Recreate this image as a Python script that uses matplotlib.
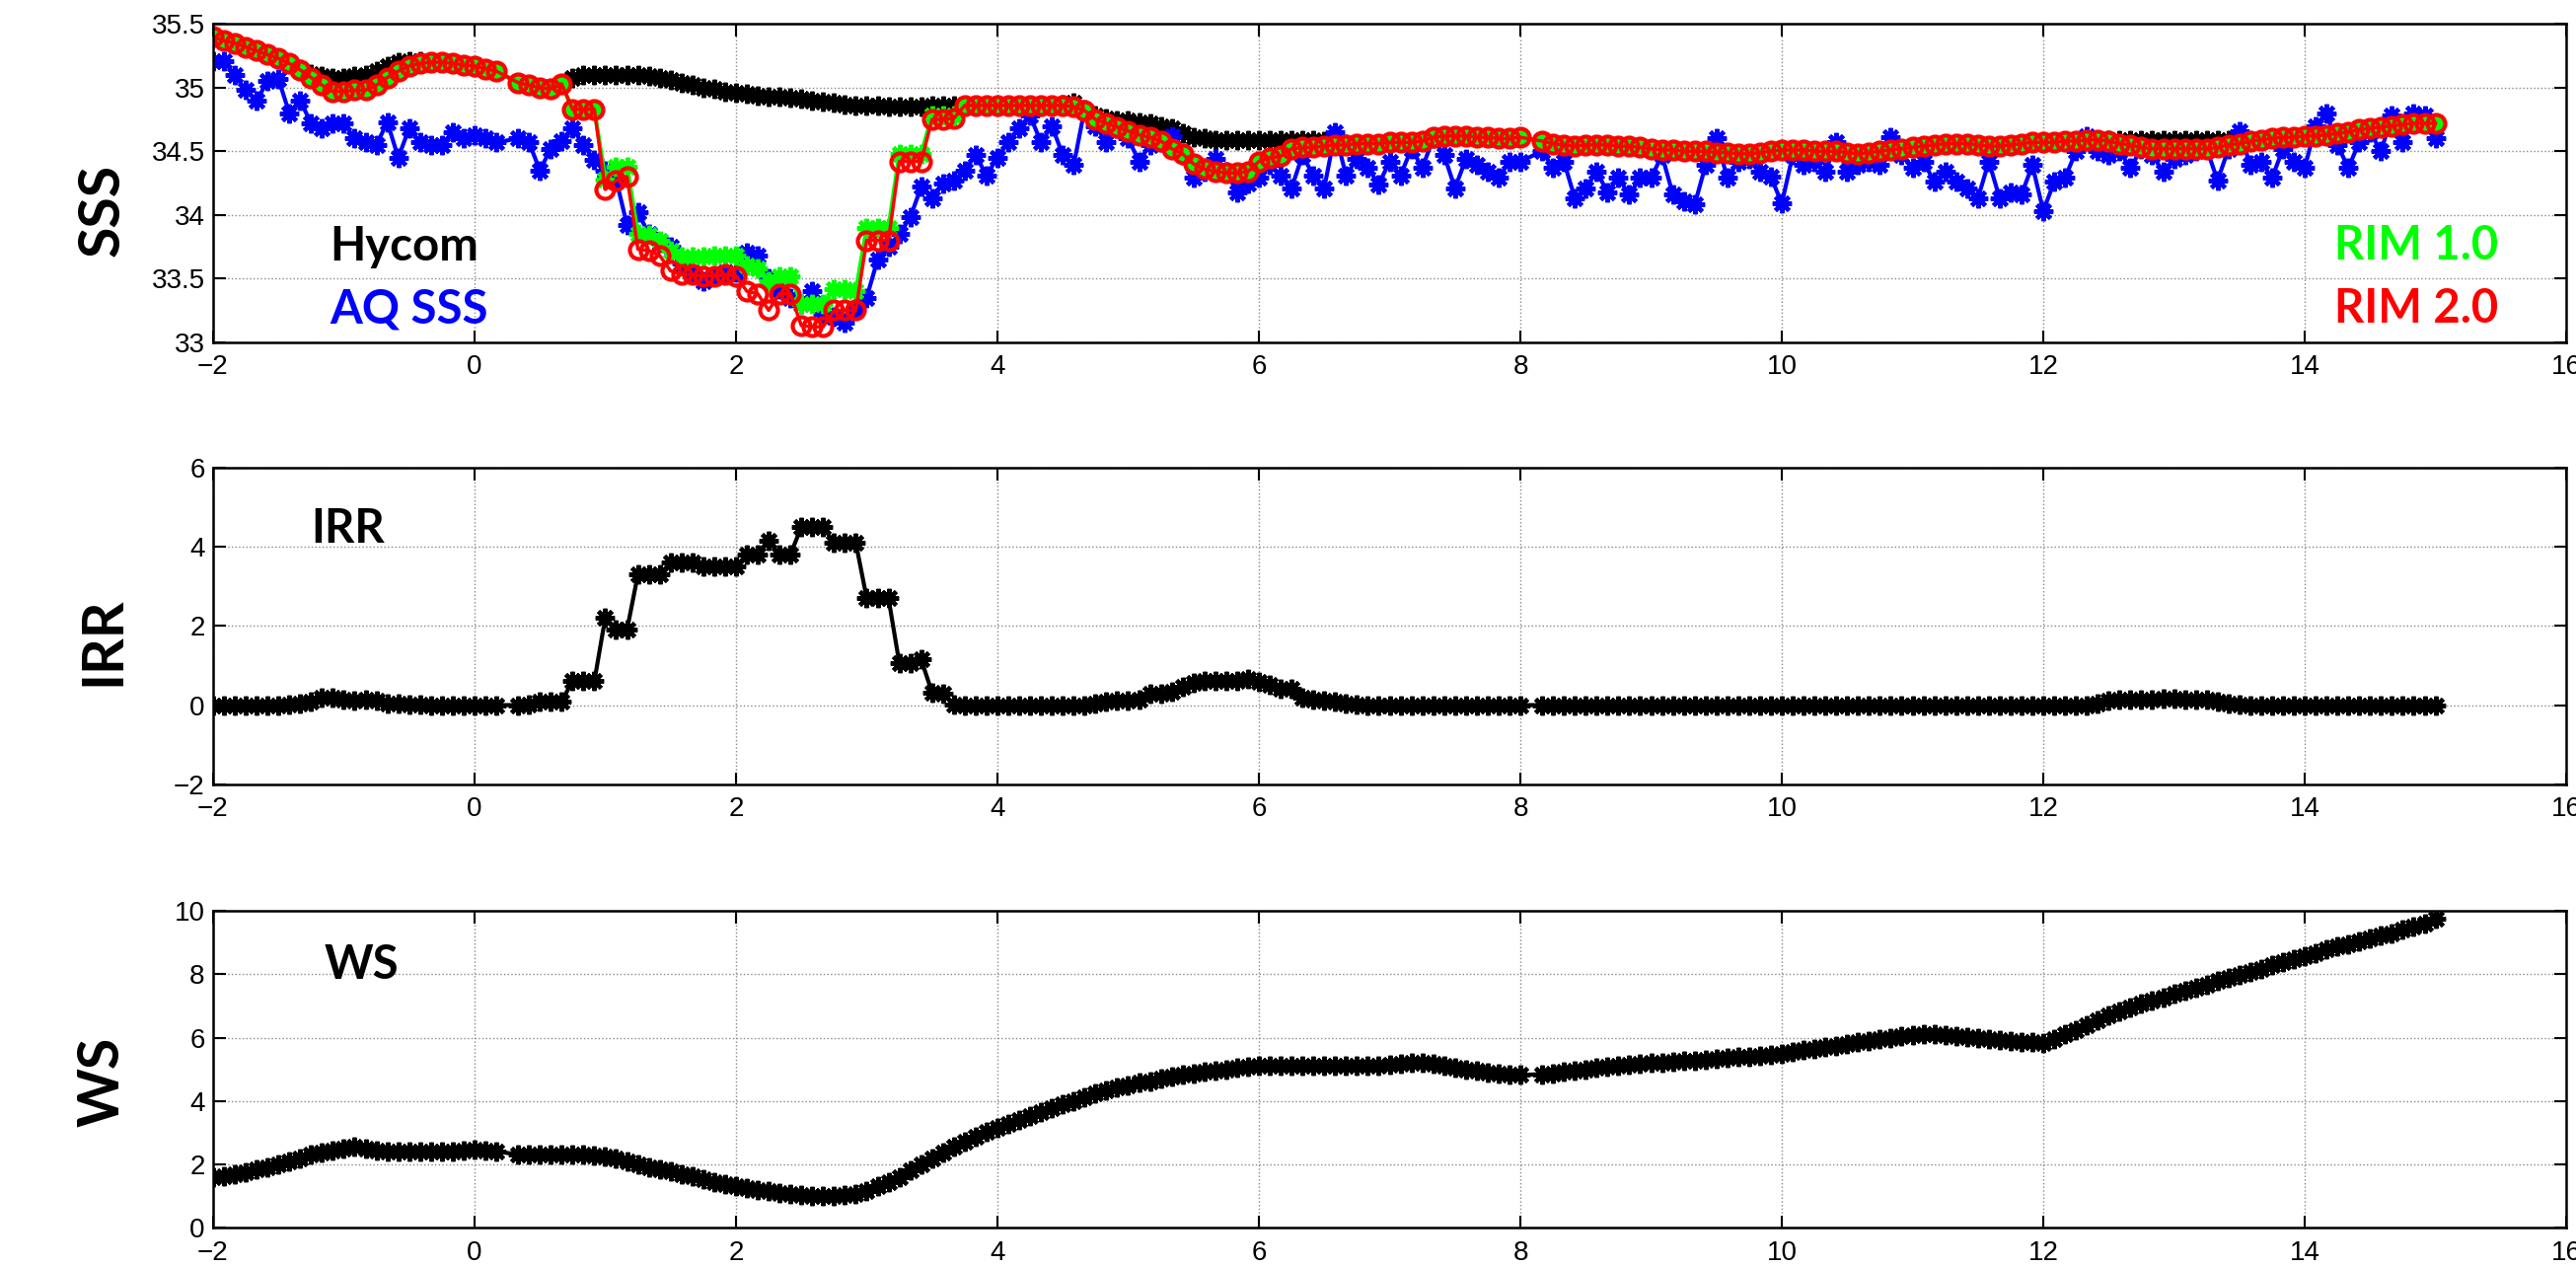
import numpy as np
import matplotlib.pyplot as plt

plt.rcParams['font.family'] = ['Liberation Sans', 'DejaVu Sans']

# 2-hourly samples, day -2 .. day 15 (None = missing sample)
t = np.arange(-2, 15 + 1e-9, 1/12)

# one row per day (12 values), last row = day 15
hycom = [
    35.40, 35.37, 35.35, 35.32, 35.29, 35.26, 35.23, 35.19, 35.15, 35.11, 35.09, 35.08,
    35.08, 35.09, 35.10, 35.13, 35.17, 35.20, 35.21, 35.21, 35.20, 35.20, 35.19, 35.18,
    35.17, 35.15, 35.13, None, 35.04, 35.02, 35.00, 34.99, 35.03, 35.08, 35.10, 35.10,
    35.10, 35.10, 35.10, 35.10, 35.09, 35.08, 35.06, 35.04, 35.02, 35.00, 34.99, 34.97,
    34.96, 34.95, 34.94, 34.93, 34.93, 34.92, 34.91, 34.90, 34.89, 34.88, 34.87, 34.86,
    34.86, 34.86, 34.85, 34.85, 34.85, 34.85, 34.86, 34.86, 34.86, 34.86, 34.86, 34.86,
    34.86, 34.86, 34.86, 34.86, 34.86, 34.86, 34.87, 34.88, 34.82, 34.78, 34.76, 34.74,
    34.74, 34.73, 34.72, 34.70, 34.68, 34.64, 34.61, 34.60, 34.59, 34.59, 34.59, 34.59,
    34.59, 34.59, 34.59, 34.59, 34.59, 34.59, 34.58, 34.57, 34.56, 34.56, 34.56, 34.56,
    34.57, 34.57, 34.57, 34.58, 34.61, 34.62, 34.62, 34.62, 34.61, 34.61, 34.60, 34.60,
    34.61, None, 34.58, 34.56, 34.55, 34.54, 34.55, 34.55, 34.55, 34.54, 34.54, 34.53,
    34.52, 34.51, 34.51, 34.50, 34.50, 34.50, 34.49, 34.49, 34.48, 34.48, 34.49, 34.50,
    34.51, 34.51, 34.51, 34.50, 34.50, 34.50, 34.49, 34.48, 34.49, 34.50, 34.51, 34.52,
    34.53, 34.54, 34.55, 34.56, 34.56, 34.56, 34.55, 34.54, 34.54, 34.55, 34.56, 34.57,
    34.57, 34.57, 34.58, 34.58, 34.59, 34.59, 34.59, 34.59, 34.59, 34.59, 34.59, 34.59,
    34.59, 34.59, 34.59, 34.59, 34.59, 34.59, 34.58, 34.58, 34.59, 34.60, 34.61, 34.61,
    34.62, 34.62, 34.63, 34.64, 34.65, 34.67, 34.68, 34.69, 34.70, 34.71, 34.72, 34.72,
    34.72,
]

aq_sss = [
    35.21, 35.21, 35.10, 34.98, 34.90, 35.05, 35.07, 34.80, 34.90, 34.72, 34.68, 34.72,
    34.72, 34.60, 34.57, 34.55, 34.73, 34.45, 34.68, 34.57, 34.55, 34.55, 34.65, 34.60,
    34.63, 34.60, 34.57, None, 34.60, 34.57, 34.35, 34.52, 34.58, 34.68, 34.55, 34.43,
    34.35, 34.28, 33.92, 34.02, 33.85, 33.78, 33.75, 33.62, 33.55, 33.48, 33.52, 33.55,
    33.55, 33.70, 33.68, 33.50, 33.42, 33.35, 33.30, 33.40, 33.22, 33.20, 33.15, 33.25,
    33.35, 33.65, 33.75, 33.85, 33.98, 34.22, 34.13, 34.25, 34.27, 34.35, 34.47, 34.31,
    34.45, 34.57, 34.68, 34.78, 34.57, 34.70, 34.47, 34.39, 34.83, 34.70, 34.57, 34.68,
    34.60, 34.42, 34.55, 34.57, 34.62, 34.47, 34.29, 34.34, 34.44, 34.34, 34.18, 34.25,
    34.29, 34.39, 34.31, 34.21, 34.47, 34.31, 34.21, 34.65, 34.31, 34.44, 34.37, 34.24,
    34.42, 34.31, 34.52, 34.37, 34.60, 34.47, 34.21, 34.44, 34.39, 34.34, 34.29, 34.42,
    34.42, None, 34.50, 34.37, 34.42, 34.13, 34.21, 34.34, 34.18, 34.29, 34.16, 34.29,
    34.29, 34.47, 34.16, 34.11, 34.08, 34.39, 34.60, 34.29, 34.42, 34.44, 34.34, 34.30,
    34.09, 34.47, 34.39, 34.42, 34.34, 34.57, 34.34, 34.39, 34.42, 34.39, 34.61, 34.47,
    34.37, 34.42, 34.26, 34.34, 34.26, 34.21, 34.13, 34.42, 34.13, 34.18, 34.16, 34.39,
    34.03, 34.26, 34.29, 34.50, 34.62, 34.50, 34.47, 34.50, 34.37, 34.52, 34.47, 34.34,
    34.44, 34.47, 34.50, 34.52, 34.27, 34.52, 34.66, 34.39, 34.42, 34.29, 34.52, 34.42,
    34.37, 34.70, 34.80, 34.55, 34.37, 34.57, 34.65, 34.50, 34.78, 34.57, 34.80, 34.78,
    34.60,
]

rim1 = [
    35.40, 35.37, 35.35, 35.32, 35.29, 35.26, 35.23, 35.19, 35.14, 35.08, 35.02, 34.97,
    34.97, 34.98, 34.98, 35.02, 35.08, 35.13, 35.17, 35.19, 35.20, 35.20, 35.19, 35.18,
    35.17, 35.15, 35.13, None, 35.04, 35.02, 35.00, 34.99, 35.03, 34.83, 34.83, 34.83,
    34.28, 34.38, 34.38, 33.85, 33.84, 33.80, 33.72, 33.67, 33.67, 33.67, 33.68, 33.68,
    33.68, 33.60, 33.58, 33.48, 33.52, 33.52, 33.30, 33.30, 33.30, 33.42, 33.42, 33.40,
    33.90, 33.90, 33.90, 34.48, 34.48, 34.48, 34.78, 34.78, 34.78, 34.86, 34.86, 34.86,
    34.86, 34.86, 34.86, 34.86, 34.86, 34.86, 34.86, 34.85, 34.82, 34.75, 34.72, 34.69,
    34.66, 34.63, 34.61, 34.58, 34.52, 34.48, 34.40, 34.36, 34.34, 34.33, 34.33, 34.34,
    34.42, 34.45, 34.46, 34.52, 34.53, 34.53, 34.54, 34.55, 34.55, 34.56, 34.56, 34.56,
    34.57, 34.57, 34.57, 34.58, 34.61, 34.62, 34.62, 34.62, 34.61, 34.61, 34.60, 34.60,
    34.61, None, 34.58, 34.56, 34.55, 34.54, 34.55, 34.55, 34.55, 34.54, 34.54, 34.53,
    34.52, 34.51, 34.51, 34.50, 34.50, 34.50, 34.49, 34.49, 34.48, 34.48, 34.49, 34.50,
    34.51, 34.51, 34.51, 34.50, 34.50, 34.50, 34.49, 34.48, 34.49, 34.50, 34.51, 34.52,
    34.53, 34.54, 34.55, 34.56, 34.56, 34.56, 34.55, 34.54, 34.54, 34.55, 34.56, 34.57,
    34.57, 34.57, 34.58, 34.58, 34.59, 34.59, 34.58, 34.56, 34.55, 34.53, 34.52, 34.52,
    34.52, 34.52, 34.52, 34.52, 34.53, 34.55, 34.56, 34.58, 34.59, 34.60, 34.61, 34.61,
    34.62, 34.62, 34.63, 34.64, 34.65, 34.67, 34.68, 34.69, 34.70, 34.71, 34.72, 34.72,
    34.72,
]

rim2 = [
    35.40, 35.37, 35.35, 35.32, 35.29, 35.26, 35.23, 35.19, 35.14, 35.08, 35.02, 34.97,
    34.97, 34.98, 34.98, 35.02, 35.08, 35.13, 35.17, 35.19, 35.20, 35.20, 35.19, 35.18,
    35.17, 35.15, 35.13, None, 35.04, 35.02, 35.00, 34.99, 35.03, 34.83, 34.83, 34.83,
    34.20, 34.27, 34.30, 33.73, 33.72, 33.68, 33.56, 33.53, 33.53, 33.52, 33.52, 33.53,
    33.52, 33.40, 33.38, 33.25, 33.38, 33.38, 33.13, 33.12, 33.12, 33.25, 33.25, 33.25,
    33.80, 33.80, 33.80, 34.42, 34.42, 34.42, 34.75, 34.75, 34.76, 34.86, 34.86, 34.86,
    34.86, 34.86, 34.86, 34.86, 34.86, 34.86, 34.86, 34.85, 34.82, 34.75, 34.72, 34.69,
    34.66, 34.63, 34.61, 34.58, 34.52, 34.48, 34.40, 34.36, 34.34, 34.33, 34.33, 34.34,
    34.42, 34.45, 34.46, 34.52, 34.53, 34.53, 34.54, 34.55, 34.55, 34.56, 34.56, 34.56,
    34.57, 34.57, 34.57, 34.58, 34.61, 34.62, 34.62, 34.62, 34.61, 34.61, 34.60, 34.60,
    34.61, None, 34.58, 34.56, 34.55, 34.54, 34.55, 34.55, 34.55, 34.54, 34.54, 34.53,
    34.52, 34.51, 34.51, 34.50, 34.50, 34.50, 34.49, 34.49, 34.48, 34.48, 34.49, 34.50,
    34.51, 34.51, 34.51, 34.50, 34.50, 34.50, 34.49, 34.48, 34.49, 34.50, 34.51, 34.52,
    34.53, 34.54, 34.55, 34.56, 34.56, 34.56, 34.55, 34.54, 34.54, 34.55, 34.56, 34.57,
    34.57, 34.57, 34.58, 34.58, 34.59, 34.59, 34.58, 34.56, 34.55, 34.53, 34.52, 34.52,
    34.52, 34.52, 34.52, 34.52, 34.53, 34.55, 34.56, 34.58, 34.59, 34.60, 34.61, 34.61,
    34.62, 34.62, 34.63, 34.64, 34.65, 34.67, 34.68, 34.69, 34.70, 34.71, 34.72, 34.72,
    34.72,
]

irr = [
    0, 0, 0, 0, 0, 0, 0, 0.01, 0.05, 0.10, 0.20, 0.20,
    0.15, 0.12, 0.15, 0.12, 0.05, 0.03, 0.02, 0.01, 0, 0, 0, 0,
    0, 0, 0, None, 0, 0.02, 0.08, 0.10, 0.10, 0.60, 0.60, 0.60,
    2.20, 1.90, 1.90, 3.30, 3.30, 3.30, 3.60, 3.60, 3.60, 3.50, 3.50, 3.50,
    3.50, 3.80, 3.80, 4.15, 3.80, 3.80, 4.50, 4.50, 4.50, 4.10, 4.10, 4.10,
    2.70, 2.70, 2.70, 1.05, 1.05, 1.15, 0.32, 0.28, 0.02, 0, 0, 0,
    0, 0, 0, 0, 0, 0, 0, 0, 0, 0.05, 0.10, 0.12,
    0.12, 0.15, 0.28, 0.30, 0.35, 0.45, 0.55, 0.60, 0.60, 0.60, 0.62, 0.65,
    0.58, 0.50, 0.42, 0.40, 0.20, 0.15, 0.12, 0.10, 0.05, 0.02, 0, 0,
    0, 0, 0, 0, 0, 0, 0, 0, 0, 0, 0, 0,
    0, None, 0, 0, 0, 0, 0, 0, 0, 0, 0, 0,
    0, 0, 0, 0, 0, 0, 0, 0, 0, 0, 0, 0,
    0, 0, 0, 0, 0, 0, 0, 0, 0, 0, 0, 0,
    0, 0, 0, 0, 0, 0, 0, 0, 0, 0, 0, 0,
    0, 0, 0, 0, 0, 0.05, 0.12, 0.15, 0.15, 0.15, 0.15, 0.17,
    0.17, 0.15, 0.15, 0.15, 0.10, 0.05, 0.02, 0, 0, 0, 0, 0,
    0, 0, 0, 0, 0, 0, 0, 0, 0, 0, 0, 0,
    0,
]

ws = [
    1.60, 1.63, 1.68, 1.75, 1.83, 1.92, 2.00, 2.10, 2.20, 2.30, 2.38, 2.43,
    2.50, 2.55, 2.50, 2.45, 2.42, 2.40, 2.40, 2.40, 2.40, 2.40, 2.42, 2.45,
    2.48, 2.45, 2.40, None, 2.32, 2.30, 2.30, 2.30, 2.30, 2.30, 2.30, 2.28,
    2.25, 2.18, 2.10, 2.00, 1.92, 1.85, 1.78, 1.70, 1.62, 1.52, 1.45, 1.38,
    1.30, 1.25, 1.20, 1.15, 1.10, 1.05, 1.02, 1.00, 1.00, 1.00, 1.02, 1.05,
    1.15, 1.30, 1.45, 1.60, 1.80, 2.00, 2.20, 2.38, 2.55, 2.72, 2.88, 3.02,
    3.15, 3.28, 3.40, 3.52, 3.65, 3.78, 3.90, 4.00, 4.12, 4.25, 4.35, 4.42,
    4.50, 4.57, 4.63, 4.70, 4.76, 4.82, 4.87, 4.92, 4.96, 5.00, 5.04, 5.07,
    5.10, 5.10, 5.10, 5.10, 5.10, 5.10, 5.10, 5.10, 5.10, 5.10, 5.10, 5.12,
    5.15, 5.18, 5.20, 5.20, 5.18, 5.12, 5.05, 5.00, 4.95, 4.90, 4.88, 4.85,
    4.82, None, 4.85, 4.88, 4.92, 4.96, 5.00, 5.05, 5.08, 5.12, 5.15, 5.18,
    5.20, 5.22, 5.24, 5.26, 5.28, 5.30, 5.33, 5.36, 5.38, 5.41, 5.44, 5.47,
    5.50, 5.55, 5.60, 5.65, 5.70, 5.75, 5.80, 5.85, 5.90, 5.95, 6.00, 6.05,
    6.08, 6.10, 6.10, 6.08, 6.05, 6.02, 6.00, 5.97, 5.93, 5.90, 5.87, 5.85,
    5.82, 5.95, 6.10, 6.25, 6.40, 6.55, 6.70, 6.83, 6.95, 7.07, 7.18, 7.28,
    7.38, 7.48, 7.58, 7.68, 7.78, 7.88, 7.98, 8.08, 8.18, 8.28, 8.38, 8.48,
    8.58, 8.68, 8.78, 8.88, 8.96, 9.05, 9.13, 9.22, 9.30, 9.40, 9.50, 9.60,
    9.75,
]

xticks = list(range(-2, 17, 2))


def clean(vals):
    # drop missing samples, the line just joins across them
    v = np.array([np.nan if a is None else a for a in vals], dtype=float)
    ok = ~np.isnan(v)
    return t[:len(v)][ok], v[ok]


star = (8, 2, 0)  # matlab-ish asterisk
mk = dict(marker=star, ms=14, mew=3)

fig = plt.figure(figsize=(26.11, 12.84), dpi=100)
ax1 = fig.add_axes([0.0827, 0.730, 0.9135, 0.251])
ax2 = fig.add_axes([0.0827, 0.381, 0.9135, 0.250])
ax3 = fig.add_axes([0.0827, 0.031, 0.9135, 0.250])

x, y = clean(hycom)
ax1.plot(x, y, '-', color='k', lw=3, **mk)
x, y = clean(aq_sss)
ax1.plot(x, y, '-', color='#0000ff', lw=3, **mk)
x, y = clean(rim1)
ax1.plot(x, y, '-', color='#00ff00', lw=3, **mk)
x, y = clean(rim2)
ax1.plot(x, y, '-', color='#ff0000', lw=2.5, marker='o', ms=13, mew=3,
         mfc='none', mec='#ff0000')

x, y = clean(irr)
ax2.plot(x, y, '-', color='k', lw=3, **mk)
x, y = clean(ws)
ax3.plot(x, y, '-', color='k', lw=3, **mk)

ax1.set_ylim(33, 35.5)
ax1.set_yticks([33, 33.5, 34, 34.5, 35, 35.5])
ax1.set_yticklabels(['33', '33.5', '34', '34.5', '35', '35.5'])
ax2.set_ylim(-2, 6)
ax2.set_yticks([-2, 0, 2, 4, 6])
ax3.set_ylim(0, 10)
ax3.set_yticks([0, 2, 4, 6, 8, 10])

for ax in (ax1, ax2, ax3):
    ax.set_xlim(-2, 16)
    ax.set_xticks(xticks)
    ax.grid(True, color='#888888', linestyle=':', linewidth=1)
    ax.tick_params(direction='in', top=True, right=True, length=9, width=1.5,
                   labelsize=20)
    ax.tick_params(axis='x', pad=9)
    ax.tick_params(axis='y', pad=6)
    for s in ax.spines.values():
        s.set_linewidth(1.8)

lbl = dict(family=['Lato', 'DejaVu Sans'], weight='bold', fontsize=34)
ax1.text(-1.11, 33.64, 'Hycom', color='k', ha='left', va='baseline', **lbl)
ax1.text(-1.11, 33.15, 'AQ SSS', color='#0000ff', ha='left', va='baseline', **lbl)
ax1.text(15.48, 33.65, 'RIM 1.0', color='#00ff00', ha='right', va='baseline', **lbl)
ax1.text(15.48, 33.15, 'RIM 2.0', color='#ff0000', ha='right', va='baseline', **lbl)
ax2.text(-1.25, 4.10, 'IRR', color='k', ha='left', va='baseline', **lbl)
ax3.text(-1.15, 7.85, 'WS', color='k', ha='left', va='baseline', **lbl)

ylab = dict(family=['Lato', 'DejaVu Sans'], weight='bold', fontsize=41,
            rotation=90, ha='center', va='center')
fig.text(0.040, 0.834, 'SSS', **ylab)
fig.text(0.040, 0.494, 'IRR', **ylab)
fig.text(0.040, 0.146, 'WS', **ylab)

fig.savefig('out.png', dpi=100)
